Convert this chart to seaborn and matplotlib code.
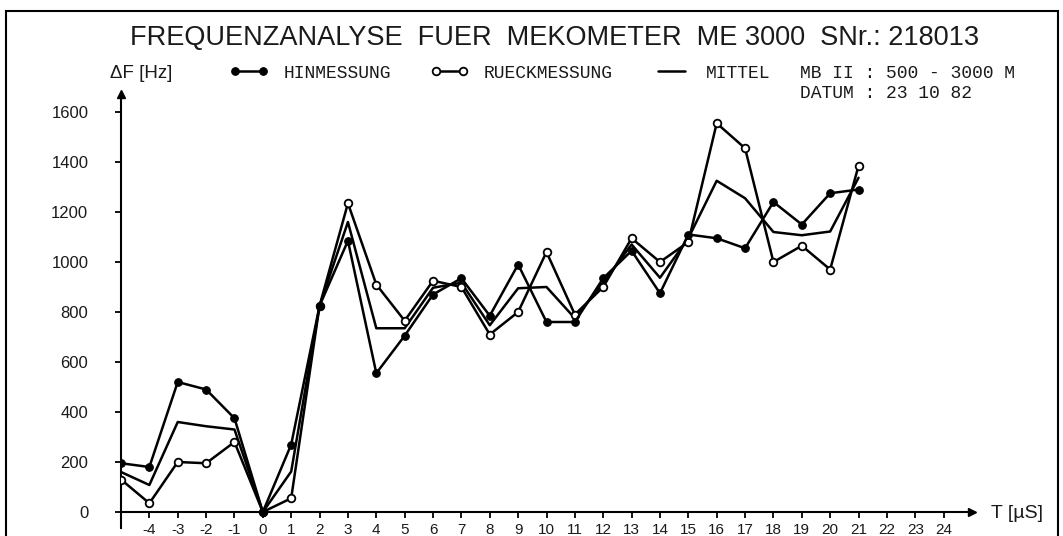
import numpy as np
import pandas as pd
import seaborn as sns
import matplotlib.pyplot as plt

zeit_us = [-5, -4, -3, -2, -1, 0, 1, 2, 3, 4, 5, 6, 7, 8, 9, 10, 11, 12, 13, 14, 15, 16, 17, 18, 19, 20, 21]
hinmessung = [195, 180, 520, 490, 375, 0, 270, 825, 1085, 555, 705, 870, 935, 785, 990, 760, 760,
              935, 1045, 875, 1110, 1095, 1055, 1240, 1150, 1275, 1290]
rueckmessung = [130, 35, 200, 195, 280, 0, 55, 825, 1235, 910, 765, 925, 900, 710, 800, 1040, 790,
                900, 1095, 1000, 1080, 1555, 1455, 1000, 1065, 970, 1385]
mittel = [160, 108, 360, 343, 330, 0, 162, 825, 1160, 735, 735, 897, 917, 747, 895, 900, 775,
          917, 1070, 937, 1095, 1325, 1255, 1120, 1107, 1122, 1337]

x_ticks = [-4, -3, -2, -1, 0, 1, 2, 3, 4, 5, 6, 7, 8, 9, 10, 11, 12, 13, 14, 15, 16, 17, 18, 19, 20, 21, 22, 23, 24]
y_ticks = [0, 200, 400, 600, 800, 1000, 1200, 1400, 1600]

sns.set_theme(style="white")
plt.rcParams['font.family'] = ['Liberation Sans', 'DejaVu Sans']
plt.rcParams['text.color'] = '#1a1a1a'
plt.rcParams['axes.unicode_minus'] = False

W, H = 1063, 536
fig = plt.figure(figsize=(W / 100, H / 100), dpi=100)
ax = fig.add_axes([121 / W, 8 / H, 851 / W, 434 / H])

df = pd.DataFrame({"T": zeit_us, "HIN": hinmessung, "RUECK": rueckmessung, "MITTEL": mittel})

sns.lineplot(data=df, x="T", y="MITTEL", color="black", lw=1.8, ax=ax,
             label="MITTEL", zorder=2)
sns.lineplot(data=df, x="T", y="RUECK", color="black", lw=1.8, marker="o", ms=5.5,
             mfc="white", mec="black", mew=1.3, ax=ax, label="RUECKMESSUNG", zorder=3)
sns.lineplot(data=df, x="T", y="HIN", color="black", lw=1.8, marker="o", ms=5.5,
             mfc="black", mec="black", ax=ax, label="HINMESSUNG", zorder=4)

# Achsen
ax.set_xlim(-5, 25)
ax.set_ylim(-64, 1672)
ax.spines['left'].set_position(('data', -5))
ax.spines['bottom'].set_position(('data', 0))
ax.spines['top'].set_visible(False)
ax.spines['right'].set_visible(False)
for s in ['left', 'bottom']:
    ax.spines[s].set_color('black')
    ax.spines[s].set_linewidth(1.5)
ax.set_xticks(x_ticks)
ax.set_yticks(y_ticks)
ax.tick_params(axis='x', bottom=True, direction='out', length=4, width=1.3, pad=4,
               labelsize=11, colors='black', labelcolor='#1a1a1a')
ax.tick_params(axis='y', left=True, direction='out', length=4, width=1.3, pad=19.5,
               labelsize=12, colors='black', labelcolor='#1a1a1a')
ax.set_xlabel("")
ax.set_ylabel("")
ax.patch.set_visible(False)

# Pfeilspitzen
ax.plot(1, 0, marker=">", color="black", ms=6, transform=ax.get_yaxis_transform(), clip_on=False)
ax.plot(-5, 1, marker="^", color="black", ms=6, transform=ax.get_xaxis_transform(), clip_on=False)

# Legende
mono = 'Liberation Mono'
handles, labels = ax.get_legend_handles_labels()
order = [labels.index(l) for l in ["HINMESSUNG", "RUECKMESSUNG", "MITTEL"]]
ax.legend([handles[i] for i in order], [labels[i] for i in order], ncol=3,
          loc='center left', bbox_to_anchor=(230 / W, 1 - 73 / H), bbox_transform=fig.transFigure,
          frameon=False, prop={'family': mono, 'size': 13},
          handlelength=2.1, handletextpad=0.85, columnspacing=2.2,
          borderpad=0, borderaxespad=0, numpoints=2)

# Texte
fig.text(555 / W, 1 - 38 / H, "FREQUENZANALYSE  FUER  MEKOMETER  ME 3000  SNr.: 218013",
         ha='center', va='center', fontsize=19.5)
fig.text(110 / W, 1 - 73 / H, "ΔF [Hz]", ha='left', va='center', fontsize=13.5)
fig.text(991 / W, 1 - 513 / H, "T [µS]", ha='left', va='center', fontsize=14)
fig.text(800 / W, 1 - 73 / H, "MB II : 500 - 3000 M", ha='left', va='center',
         family=mono, fontsize=13)
fig.text(800 / W, 1 - 93 / H, "DATUM : 23 10 82", ha='left', va='center',
         family=mono, fontsize=13)

# Rahmen
fig.add_artist(plt.Rectangle((6 / W, -0.1), (1058 - 6) / W, 1.1 - 11 / H, fill=False,
                             lw=1.5, edgecolor='black', transform=fig.transFigure))

fig.savefig("out.png", dpi=100)
